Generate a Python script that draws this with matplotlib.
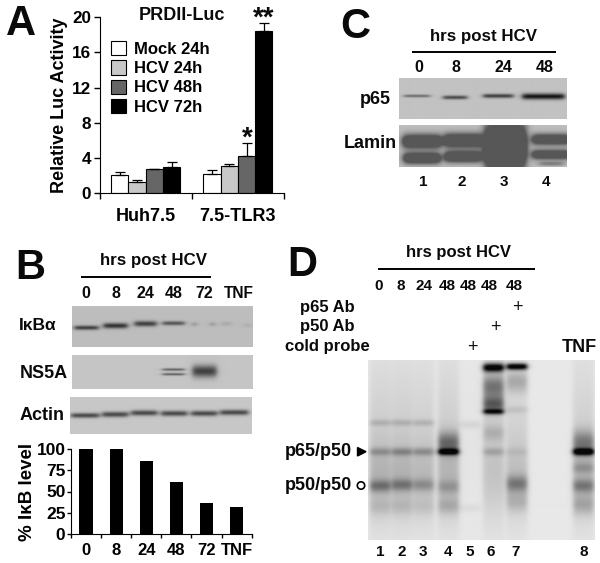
import numpy as np
import matplotlib
matplotlib.use("Agg")
import matplotlib.pyplot as plt
from matplotlib.patches import Polygon, Circle

plt.rcParams['font.family'] = ['Liberation Sans', 'DejaVu Sans']
plt.rcParams['font.weight'] = 'bold'
plt.rcParams['axes.labelweight'] = 'bold'

W, H = 600, 563

# ---------- data ----------
a_groups = ['Huh7.5', '7.5-TLR3']
a_series = ['Mock 24h', 'HCV 24h', 'HCV 48h', 'HCV 72h']
a_huh = [2.0, 1.2, 2.7, 3.0]
a_tlr = [2.2, 3.1, 4.2, 18.4]
a_huh_err = [0.35, 0.3, 0.05, 0.5]
a_tlr_err = [0.4, 0.15, 1.5, 0.9]
a_colors = ['#ffffff', '#c8c8c8', '#666666', '#000000']
a_yticks = [0, 4, 8, 12, 16, 20]

b_labels = ['0', '8', '24', '48', '72', 'TNF']
b_values = [100, 100, 86, 61, 36, 32]
b_yticks = [0, 25, 50, 75, 100]

# blot bands: x centre, y centre, half width, y sigma, darkness (in image pixels of each blot)
ikba = [(86, 327.5, 12, 1.6, .50), (115, 325.5, 12, 2.0, .55), (145, 323.5, 11, 2.0, .50),
        (173, 323, 11, 1.5, .42), (194, 324, 2, 1.5, .22), (212, 324, 2, 1.5, .2),
        (226, 323.5, 5, 1.5, .08), (247, 325, 4, 1.5, .06)]
ns5a = [(173, 369.3, 11, .9, .40), (173, 374, 11, .9, .40), (204, 371, 12, 4.5, .52)]
actin = [(85, 415.5, 14, 1.8, .50), (115, 414.5, 13, 2.0, .50), (144, 413, 13, 2.0, .50),
         (174, 413.5, 13, 2.0, .50), (204, 413.5, 13, 2.0, .50), (234, 412.5, 14, 2.0, .50)]
p65 = [(417, 96, 13, 1.0, .35), (455, 97.5, 12, 1.4, .48), (498, 96, 15, 1.5, .52),
       (543, 96.5, 21, 2.2, .68)]
lamin = [(422, 142, 19, 5.0, .80), (422, 158.5, 18, 4.0, .80), (463, 141, 19, 5.0, .80),
         (463, 157, 18, 4.0, .80), (505, 147, 21, 17.0, .90), (551, 140, 19, 4.0, .70),
         (551, 155, 19, 3.5, .70), (551, 164, 12, 1.5, .25)]
g_lanes = [380, 401.7, 423.3, 448.3, 470, 493.3, 516.7, 583.3]
gel = [(0, 423, .12, 2.5), (0, 452, .20, 3), (0, 486, .30, 4.5), (0, 507, .08, 6),
       (1, 423, .12, 2.5), (1, 452, .24, 3), (1, 485, .28, 4.5), (1, 507, .08, 6),
       (2, 423, .12, 2.5), (2, 452, .22, 3), (2, 485, .20, 4.5), (2, 507, .06, 6),
       (3, 452, .82, 2.4), (3, 443, .38, 8), (3, 487, .16, 5), (3, 506, .14, 6),
       (4, 425, .06, 3), (4, 508, .04, 3),
       (5, 368, .95, 3.2), (5, 387, .40, 9), (5, 405, .45, 6), (5, 412, .65, 2), (5, 433, .12, 6), (5, 452, .15, 3),
       (6, 367, .95, 2.4), (6, 382, .20, 8), (6, 410, .08, 3), (6, 452, .06, 3), (6, 484, .30, 6), (6, 502, .12, 7),
       (7, 452, .90, 2.5), (7, 443, .33, 9), (7, 468, .16, 4), (7, 486, .28, 5), (7, 505, .16, 7)]
g_smear = [.10, .10, .09, .10, .015, .10, .08, .09]
g_low = [.13, .13, .11, .12, 0, .06, .10, .12]


def px_axes(x0, y0, x1, y1, **kw):
    return fig.add_axes([x0 / W, 1 - y1 / H, (x1 - x0) / W, (y1 - y0) / H], **kw)


def blot(rect, bg, bands, edge=3.0, floor=.03):
    x0, y0, x1, y1 = rect
    xx, yy = np.meshgrid(np.arange(x0, x1, .5), np.arange(y0, y1, .5))
    img = np.full(xx.shape, float(bg))
    for xc, yc, hw, sy, amp in bands:
        prof = .5 * (np.tanh((xx - xc + hw) / edge) - np.tanh((xx - xc - hw) / edge))
        img -= amp * prof * np.exp(-((yy - yc) / (1.35 * sy)) ** 2)
    bgax.imshow(np.clip(img, floor, 1), cmap='gray', vmin=0, vmax=1,
                extent=(x0, x1, y1, y0), aspect='auto', interpolation='bilinear', zorder=1)


fig = plt.figure(figsize=(W / 100, H / 100), dpi=100, facecolor='white')
bgax = fig.add_axes([0, 0, 1, 1])

# blots
blot((71.7, 306, 252.7, 346.7), .74, ikba)
blot((71.7, 355, 252.7, 388.7), .77, ns5a)
blot((70, 397.3, 252, 434), .78, actin)
blot((399.3, 78.3, 566.7, 119.3), .76, p65)
blot((399.3, 126, 566.7, 167.3), .74, lamin, edge=4, floor=.34)
gel_bands = []
for lane, s, lo in zip(g_lanes, g_smear, g_low):
    gel_bands.append((lane, 440, 10.5, 62, s))
    gel_bands.append((lane, 478, 10.5, 26, lo))
for i, y, amp, s in gel:
    gel_bands.append((g_lanes[i], y, 10, s, amp))
blot((368, 360.7, 595, 540), .91, gel_bands)

bgax.set_xlim(0, W)
bgax.set_ylim(H, 0)
bgax.axis('off')

# header lines
for xa, xb, y in [(80.5, 211, 276.7), (412.3, 556, 52), (378, 535, 269.3)]:
    bgax.plot([xa, xb], [y, y], color='black', lw=1.4, solid_capstyle='butt', zorder=3)

# panel A
axA = px_axes(99.5, 17.3, 284, 193, facecolor='none')
gx = np.arange(len(a_groups))
bw = .1875
for i, (name, col) in enumerate(zip(a_series, a_colors)):
    off = (i - 1.5) * bw
    axA.bar(gx + off, [a_huh[i], a_tlr[i]], bw, color=col, edgecolor='black', lw=.8, label=name,
            yerr=[[0, 0], [a_huh_err[i], a_tlr_err[i]]],
            error_kw=dict(ecolor='black', elinewidth=.9, capsize=3.5, capthick=.9))
axA.set_xlim(-.5, 1.5)
axA.set_ylim(0, 20)
axA.set_yticks(a_yticks)
axA.set_xticks([-.5, .5, 1.5])
axA.set_xticklabels([])
axA.set_xticks(gx, minor=True)
axA.set_xticklabels(a_groups, minor=True, fontsize=13)
axA.tick_params(axis='x', which='minor', length=0, pad=11)
axA.tick_params(axis='x', which='major', length=4, width=1)
axA.tick_params(axis='y', labelsize=12.3, length=4, width=1, pad=2)
for s in ['top', 'right']:
    axA.spines[s].set_visible(False)
axA.set_ylabel('Relative Luc Activity', fontsize=13, labelpad=3)
axA.legend(loc='upper left', bbox_to_anchor=(.06, .865), frameon=False, fontsize=12,
           handlelength=.95, handleheight=.95, handletextpad=.45, labelspacing=.2,
           borderpad=0, borderaxespad=0)

# panel B bars
axB = px_axes(71, 448.7, 251.7, 534.3, facecolor='none')
bx = np.arange(len(b_labels)) + .5
axB.bar(bx, b_values, .44, color='black')
axB.set_xlim(0, 6)
axB.set_ylim(0, 100)
axB.set_yticks(b_yticks)
axB.set_xticks(np.arange(7))
axB.set_xticklabels([])
axB.set_xticks(bx, minor=True)
axB.set_xticklabels(b_labels, minor=True, fontsize=12)
axB.tick_params(axis='x', which='minor', length=0, pad=6)
axB.tick_params(axis='x', which='major', length=3, width=1)
axB.tick_params(axis='y', labelsize=12.5, length=3, width=1, pad=1)
for s in ['top', 'right']:
    axB.spines[s].set_visible(False)
axB.set_ylabel('% I\u03baB level', fontsize=13.5, labelpad=0)

# text annotations
txt = [
    ('A', 21, 24, 30), ('B', 30, 268, 30), ('C', 355, 27, 30), ('D', 302, 265, 30),
    ('PRDII-Luc', 181.5, 15, 13), ('**', 264, 19, 20), ('*', 247.5, 139, 20),
    ('hrs post HCV', 153.5, 261, 12.2),
    ('0', 86, 294, 11.5), ('8', 116, 294, 11.5), ('24', 145, 294, 11.5), ('48', 174, 294, 11.5),
    ('72', 204, 294, 11.5), ('TNF', 239, 294, 11.2),
    ('I\u03baB\u03b1', 38, 326, 12.5), ('NS5A', 44, 374, 13), ('Actin', 42.5, 415, 13),
    ('hrs post HCV', 483.5, 37, 12.2),
    ('0', 418.5, 67, 11.5), ('8', 456, 67, 11.5), ('24', 503, 67, 11.5), ('48', 544.5, 67, 11.5),
    ('p65', 375, 99, 13), ('Lamin', 370, 144, 13),
    ('1', 423, 182, 11), ('2', 462, 182, 11), ('3', 504, 182, 11), ('4', 546, 182, 11),
    ('hrs post HCV', 459, 253, 12),
    ('0', 379, 286, 11), ('8', 400.5, 286, 11), ('24', 424, 286, 11), ('48', 447, 286, 11),
    ('48', 468.5, 286, 11), ('48', 489.5, 286, 11), ('48', 514.5, 286, 11),
    ('p65 Ab', 327.5, 307.5, 12), ('p50 Ab', 327.5, 327, 12), ('cold probe', 327, 347, 12),
    ('TNF', 579, 348, 13),
    ('p65/p50', 318.5, 452, 13), ('p50/p50', 318.5, 486, 13),
    ('1', 380.5, 552, 11), ('2', 401.5, 552, 11), ('3', 423, 552, 11), ('4', 448, 552, 11),
    ('5', 469.5, 552, 11), ('6', 491, 552, 11), ('7', 516, 552, 11), ('8', 584, 552, 11),
]
for s, x, y, fs in txt:
    bgax.text(x, y, s, fontsize=fs, ha='center', va='center', fontweight='bold', color='#0a0a0a', zorder=4)
for x, y in [(517.7, 307.7), (495, 327.5), (472.7, 347.5)]:
    bgax.text(x, y, '+', fontsize=13, ha='center', va='center', fontweight='normal', color='#111111', zorder=4)

bgax.add_patch(Polygon([[357.5, 447.5], [357.5, 456], [366, 451.7]], closed=True, color='black', zorder=4))
bgax.add_patch(Circle((361, 485.5), 3.7, facecolor='white', edgecolor='black', lw=1.2, zorder=4))

fig.savefig('out.png', dpi=100)
